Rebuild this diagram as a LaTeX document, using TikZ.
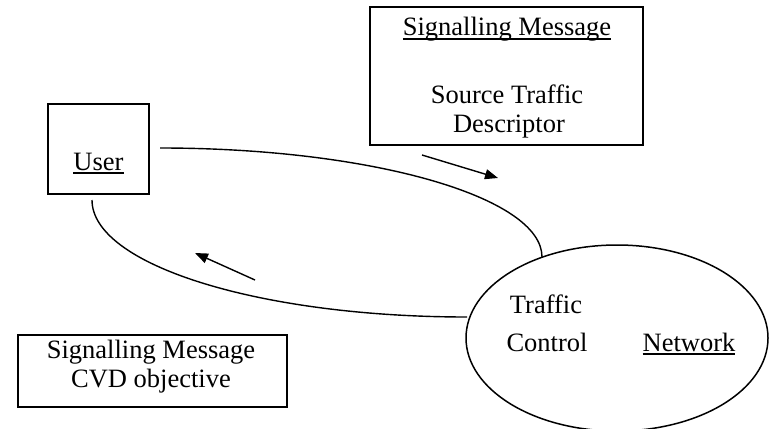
\documentclass[tikz,border=0pt]{standalone}
\usepackage{fontspec}
\setmainfont{Liberation Serif}
\usetikzlibrary{shapes.geometric,arrows.meta}
% underline at a fixed depth below the baseline, crossing descenders
\newsavebox{\ulbox}
\newcommand{\ulword}[1]{\sbox{\ulbox}{#1}\rlap{\rule[-4pt]{\wd\ulbox}{1.7pt}}\usebox{\ulbox}}
\begin{document}
\begin{tikzpicture}[x=1pt,y=-1pt,
  every node/.style={font=\fontsize{26.5}{32}\selectfont},
  boxnode/.style={draw,line width=1.5pt,rectangle,inner sep=0pt},
  label/.style={anchor=base,inner sep=0pt},
  link/.style={line width=1.4pt},
  msgarrow/.style={line width=1.4pt,-{Triangle[length=13pt,width=10pt]}}]
\useasboundingbox (0,0) rectangle (770,428);
\clip (0,0) rectangle (770,428);

% boxes and the network ellipse
\node[boxnode,minimum width=273pt,minimum height=138pt] (msgtop) at (506.5,76) {};
\node[boxnode,minimum width=101pt,minimum height=90pt] (user) at (98.5,149) {};
\node[boxnode,minimum width=269pt,minimum height=72pt] (msgbot) at (152.5,371) {};
\node[draw,ellipse,line width=1.5pt,minimum width=302pt,minimum height=186pt,inner sep=0pt] (net) at (617,338) {};

% texts
\node[label] (t1) at (507,36) {\ulword{Signalling Message}};
\node[label] (t2) at (507,103) {Source Traffic};
\node[label] (t3) at (509,132) {Descriptor};
\node[label] (tu) at (98.5,170) {\ulword{User}};
\node[label] (t4) at (151,358) {Signalling Message};
\node[label] (t5) at (151,387) {CVD objective};
\node[label] (t6) at (546,313) {Traffic};
\node[label] (t7) at (547,351) {Control};
\node[label] (t8) at (689,351) {\ulword{Network}};

% end points of the two links between user and network
\coordinate (upA) at (160,148);
\coordinate (upB) at (542,257);
\coordinate (loA) at (92,200);
\coordinate (loB) at (467,317);

\draw[link] (upA) .. controls (371,148) and (542,197) .. (upB);
\draw[link] (loA) .. controls (92,265) and (260,317) .. (loB);

% direction arrows
\coordinate (a1s) at (422,155);
\coordinate (a1e) at (498,178);
\coordinate (a2s) at (255,280);
\coordinate (a2e) at (195,253);
\draw[msgarrow] (a1s) -- (a1e);
\draw[msgarrow] (a2s) -- (a2e);
\end{tikzpicture}
\end{document}
